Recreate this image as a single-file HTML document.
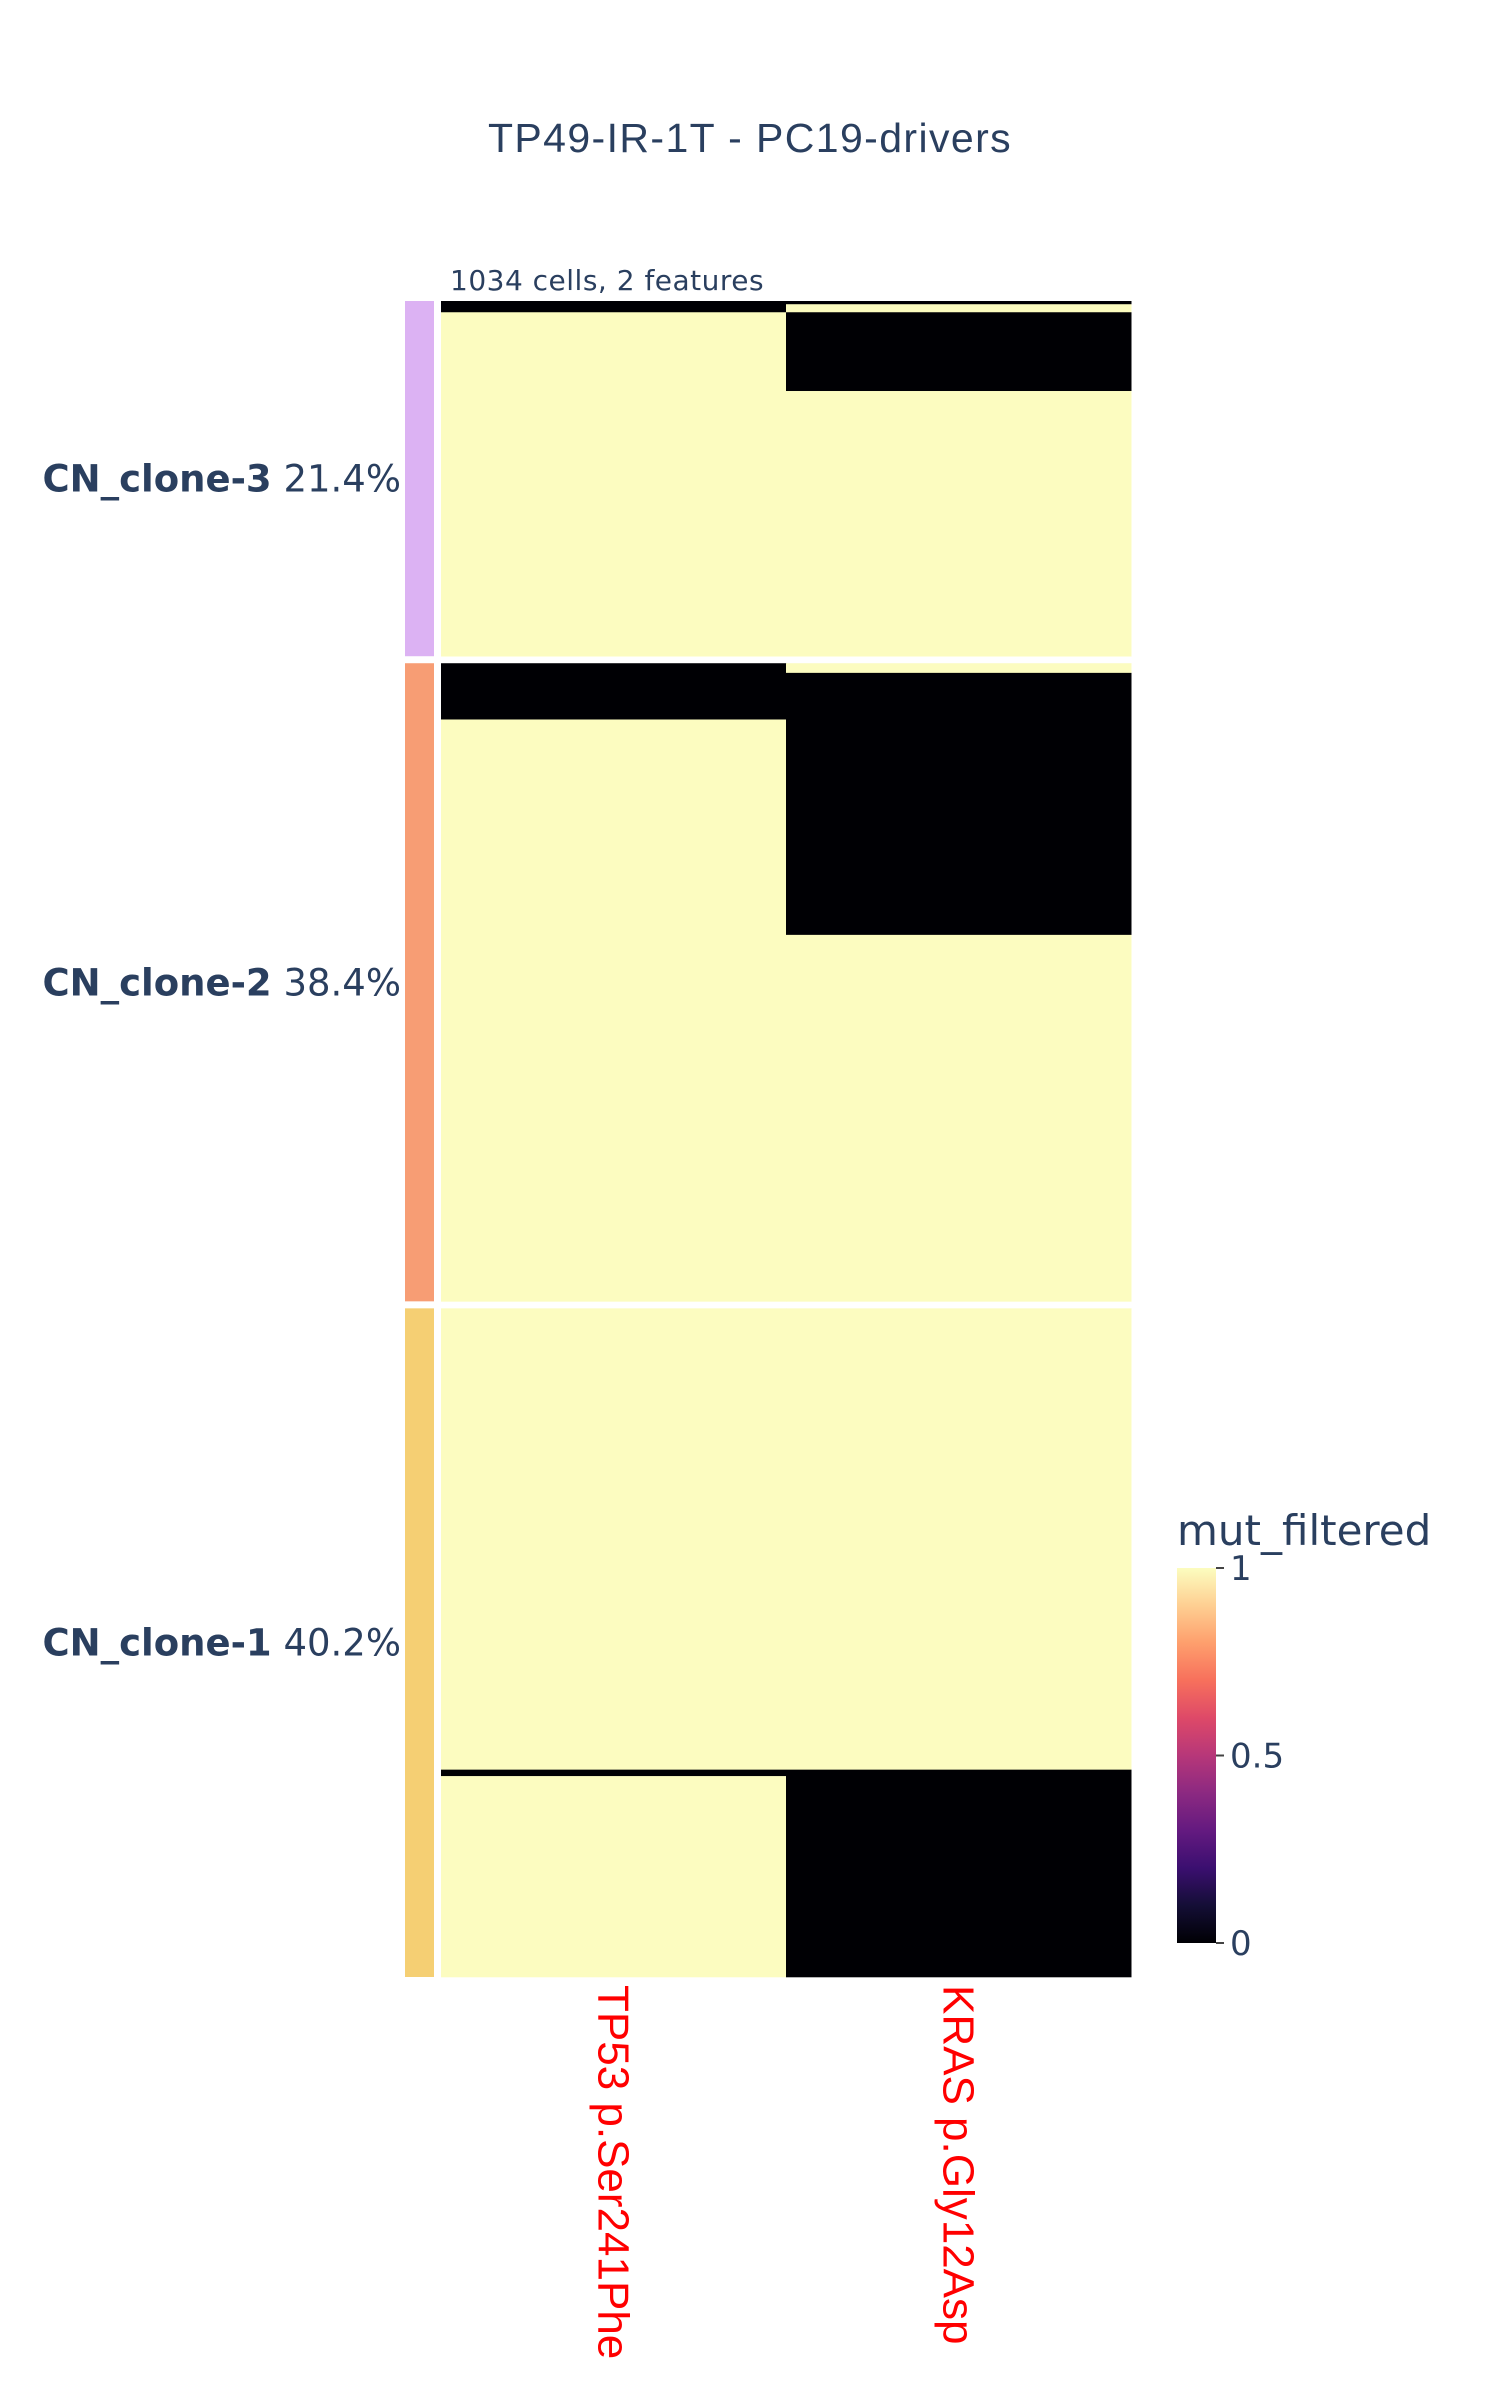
<!DOCTYPE html>
<html><head><meta charset="utf-8">
<style>
html,body{margin:0;padding:0;background:#fff;}
svg{display:block;}
</style></head>
<body>
<svg id="chart" width="1500" height="2400" xmlns="http://www.w3.org/2000/svg">
  <defs>
    <linearGradient id="magma" x1="0" y1="1" x2="0" y2="0">
      <stop offset="0" stop-color="#000004"/>
      <stop offset="0.1" stop-color="#140e36"/>
      <stop offset="0.2" stop-color="#3b0f70"/>
      <stop offset="0.3" stop-color="#641a80"/>
      <stop offset="0.4" stop-color="#8c2981"/>
      <stop offset="0.5" stop-color="#b73779"/>
      <stop offset="0.6" stop-color="#de4968"/>
      <stop offset="0.7" stop-color="#f7705c"/>
      <stop offset="0.8" stop-color="#fe9f6d"/>
      <stop offset="0.9" stop-color="#fecf92"/>
      <stop offset="1" stop-color="#fcfdbf"/>
    </linearGradient>
  </defs>
  <text x="750" y="152" text-anchor="middle" font-family="Liberation Sans, sans-serif" font-size="41" letter-spacing="1.4" fill="#2a3f5f">TP49-IR-1T - PC19-drivers</text>
  <text x="450" y="290" font-family="DejaVu Sans, sans-serif" font-size="28" letter-spacing="0.5" fill="#2a3f5f">1034 cells, 2 features</text>
  <g id="cells"></g>
  <g id="annot"></g>
  <g id="xlabels"></g>
  <g id="cbar">
    <text x="1177" y="1545" font-family="DejaVu Sans, sans-serif" font-size="42" fill="#2a3f5f">mut_filtered</text>
    <rect x="1177" y="1568" width="39" height="375" fill="url(#magma)"/>
  </g>
</svg>
<script>
// Data
const features = ["TP53 p.Ser241Phe", "KRAS p.Gly12Asp"];
const clones = ["CN_clone-3", "CN_clone-2", "CN_clone-1"];
const clonePct = ["21.4%", "38.4%", "40.2%"];
const cloneCells = [221, 397, 416];
const cloneColors = ["#dcb2f3", "#f79d74", "#f5cf73"];
// runs per clone per feature: [value, cellCount]
const runsTP53 = [
  [[0, 7], [1, 214]],
  [[0, 35], [1, 362]],
  [[1, 287], [0, 4], [1, 125]]
];
const runsKRAS = [
  [[0, 2], [1, 5], [0, 49], [1, 165]],
  [[1, 6], [0, 163], [1, 228]],
  [[1, 287], [0, 129]]
];
const cbTicks = [0, 0.5, 1];
const cbTickLabels = ["0", "0.5", "1"];

const NS = "http://www.w3.org/2000/svg";
const plotLeft = 441, plotRight = 1131, plotTop = 301, plotBottom = 1977, gap = 7;
const totalCells = cloneCells.reduce((a, b) => a + b, 0);
const pxPerCell = (plotBottom - plotTop - gap * (clones.length - 1)) / totalCells;
const colW = (plotRight - plotLeft) / features.length;
function xPos(i) { return plotLeft + i * colW; }
function cloneTop(c) {
  let y = plotTop;
  for (let k = 0; k < c; k++) y += cloneCells[k] * pxPerCell + gap;
  return y;
}
function colorOf(v) { return v >= 0.5 ? "#fcfcc0" : "#000004"; }
function mk(tag, attrs) {
  const e = document.createElementNS(NS, tag);
  for (const k in attrs) e.setAttribute(k, attrs[k]);
  return e;
}
const cellsG = document.getElementById("cells");
const allRuns = [runsTP53, runsKRAS];
allRuns.forEach((runs, fi) => {
  runs.forEach((cloneRuns, ci) => {
    let y = cloneTop(ci);
    cloneRuns.forEach(([v, n]) => {
      const h = n * pxPerCell;
      const r = mk("rect", {x: xPos(fi), y: y, width: colW + 0.5, height: h + 0.3, fill: colorOf(v)});
      
      
      cellsG.appendChild(r);
      y += h;
    });
  });
});
const annotG = document.getElementById("annot");
clones.forEach((c, ci) => {
  const y0 = cloneTop(ci), h = cloneCells[ci] * pxPerCell;
  const r = mk("rect", {x: 405, y: y0, width: 29, height: h, fill: cloneColors[ci]});
  
  
  annotG.appendChild(r);
  const t = mk("text", {x: 401, y: y0 + h / 2 + 13, "text-anchor": "end", "font-family": "DejaVu Sans, sans-serif", "font-size": "37", fill: "#2a3f5f"});
  
  
  const b = mk("tspan", {"font-weight": "bold"});
  b.textContent = c;
  t.appendChild(b);
  const p = mk("tspan", {});
  p.textContent = " " + clonePct[ci];
  t.appendChild(p);
  annotG.appendChild(t);
});
const xg = document.getElementById("xlabels");
features.forEach((f, i) => {
  const cx = xPos(i) + colW / 2;
  const t = mk("text", {x: 0, y: 0, transform: `translate(${cx - 15},1985) rotate(90)`, "font-family": "Liberation Sans, sans-serif", "font-size": "44", fill: "#ff0000"});
  
  
  t.textContent = f;
  xg.appendChild(t);
});
const cbG = document.getElementById("cbar");
const cbTop = 1568, cbBot = 1943;
function cbY(v) { return cbBot - v * (cbBot - cbTop); }
cbTicks.forEach((v, i) => {
  const y = cbY(v);
  const l = mk("line", {x1: 1216, x2: 1224, y1: y, y2: y, stroke: "#444", "stroke-width": 2});
  
  
  cbG.appendChild(l);
  const t = mk("text", {x: 1230, y: y + 12, "font-family": "DejaVu Sans, sans-serif", "font-size": "34", fill: "#2a3f5f"});
  
  
  t.textContent = cbTickLabels[i];
  cbG.appendChild(t);
});
</script>
</body></html>
